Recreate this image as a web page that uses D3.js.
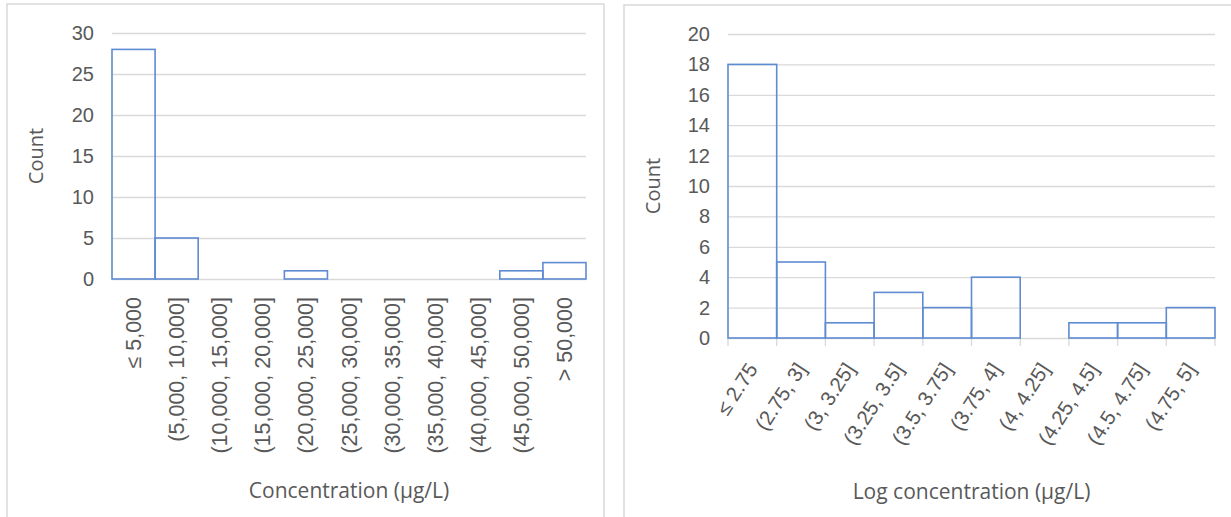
<!DOCTYPE html>
<html>
<head>
<meta charset="utf-8">
<script src="https://cdn.jsdelivr.net/npm/d3@7"></script>
<style>
  html, body { margin: 0; padding: 0; background: #ffffff; }
  svg { display: block; font-family: "Open Sans", "Noto Sans", sans-serif; }
</style>
</head>
<body>
<svg id="chart" width="1231" height="517"></svg>
<script>
// Histogram of raw concentrations (5,000 µg/L bins)
const concBins = ["≤ 5,000", "(5,000, 10,000]", "(10,000, 15,000]", "(15,000, 20,000]",
  "(20,000, 25,000]", "(25,000, 30,000]", "(30,000, 35,000]", "(35,000, 40,000]",
  "(40,000, 45,000]", "(45,000, 50,000]", "> 50,000"];
const concCounts = [28, 5, 0, 0, 1, 0, 0, 0, 0, 1, 2];
const concTicks = [0, 5, 10, 15, 20, 25, 30];

// Histogram of log10 concentrations (0.25 bins)
const logBins = ["≤ 2.75", "(2.75, 3]", "(3, 3.25]", "(3.25, 3.5]", "(3.5, 3.75]",
  "(3.75, 4]", "(4, 4.25]", "(4.25, 4.5]", "(4.5, 4.75]", "(4.75, 5]"];
const logCounts = [18, 5, 1, 3, 2, 4, 0, 1, 1, 2];
const logTicks = [0, 2, 4, 6, 8, 10, 12, 14, 16, 18, 20];

const TEXT = "#595959";
const GRID = "#d9d9d9";
const BAR = "#5f8bd2";

const svg = d3.select("#chart");
svg.append("rect").attr("width", 1231).attr("height", 517).attr("fill", "#fff");

function panel(opts) {
  const { frame, plot, bins, counts, ticks, yMax, xTitle, titleY, countX, rotate, xTickLen, xLabelSize } = opts;

  // chart frame
  svg.append("rect")
    .attr("x", frame.x).attr("y", frame.y)
    .attr("width", frame.w).attr("height", frame.h)
    .attr("fill", "none").attr("stroke", GRID).attr("stroke-width", 1.5);

  const x = d3.scaleBand().domain(bins).range([plot.x0, plot.x1]).padding(0);
  const y = d3.scaleLinear().domain([0, yMax]).range([plot.y1, plot.y0]);

  // value axis with gridlines
  const yAxis = svg.append("g")
    .attr("transform", `translate(${plot.x0},0)`)
    .call(d3.axisLeft(y).tickValues(ticks).tickSize(-(plot.x1 - plot.x0)).tickPadding(18));
  yAxis.select(".domain").remove();
  yAxis.selectAll(".tick line").attr("stroke", GRID).attr("stroke-width", 1.3);
  yAxis.selectAll(".tick text")
    .attr("fill", TEXT).style("font-size", "20px");

  // category axis
  const xAxis = svg.append("g")
    .attr("transform", `translate(0,${plot.y1})`)
    .call(d3.axisBottom(x).tickSize(0));
  xAxis.select(".domain").remove();
  xAxis.selectAll(".tick line").remove();

  if (xTickLen > 0) {
    const edges = bins.map(b => x(b)).concat([plot.x1]);
    svg.append("g").selectAll("line").data(edges).join("line")
      .attr("x1", d => d).attr("x2", d => d)
      .attr("y1", plot.y1).attr("y2", plot.y1 + xTickLen)
      .attr("stroke", GRID).attr("stroke-width", 1.3);
  }

  const labels = xAxis.selectAll(".tick text")
    .attr("fill", TEXT).style("font-size", xLabelSize + "px")
    .attr("text-anchor", "end");
  if (rotate === -90) {
    labels.attr("x", -18).attr("y", 0).attr("dy", "0.35em").attr("transform", "rotate(-90)");
  } else {
    labels.attr("x", 0).attr("y", 0).attr("dy", 0)
      .attr("transform", `translate(6,${opts.labelDrop}) rotate(${rotate})`);
  }

  // bars (outline only)
  svg.append("g").selectAll("rect").data(counts.map((c, i) => ({ bin: bins[i], c })))
    .join("rect")
    .filter(d => d.c > 0)
    .attr("x", d => x(d.bin))
    .attr("y", d => y(d.c))
    .attr("width", x.bandwidth())
    .attr("height", d => y(0) - y(d.c))
    .attr("fill", "none")
    .attr("stroke", BAR)
    .attr("stroke-width", 1.6);

  // axis titles
  svg.append("text")
    .attr("x", (plot.x0 + plot.x1) / 2).attr("y", titleY)
    .attr("text-anchor", "middle").attr("fill", TEXT)
    .style("font-size", "21px").text(xTitle);

  svg.append("text")
    .attr("transform", `translate(${countX},${(plot.y0 + plot.y1) / 2}) rotate(-90)`)
    .attr("text-anchor", "middle").attr("dy", "0.35em").attr("fill", TEXT)
    .style("font-size", "20px").text("Count");
}

panel({
  frame: { x: 7, y: 4, w: 597, h: 530 },
  plot: { x0: 112, x1: 586, y0: 33, y1: 279 },
  bins: concBins, counts: concCounts, ticks: concTicks, yMax: 30,
  xTitle: "Concentration (µg/L)", titleY: 498, countX: 36,
  rotate: -90, xTickLen: 0, xLabelSize: 21.5
});

panel({
  frame: { x: 624, y: 5, w: 640, h: 530 },
  plot: { x0: 728, x1: 1215, y0: 34, y1: 338 },
  bins: logBins, counts: logCounts, ticks: logTicks, yMax: 20,
  xTitle: "Log concentration (µg/L)", titleY: 499, countX: 653,
  rotate: -57, xTickLen: 8, xLabelSize: 20.5, labelDrop: 31
});
</script>
</body>
</html>
